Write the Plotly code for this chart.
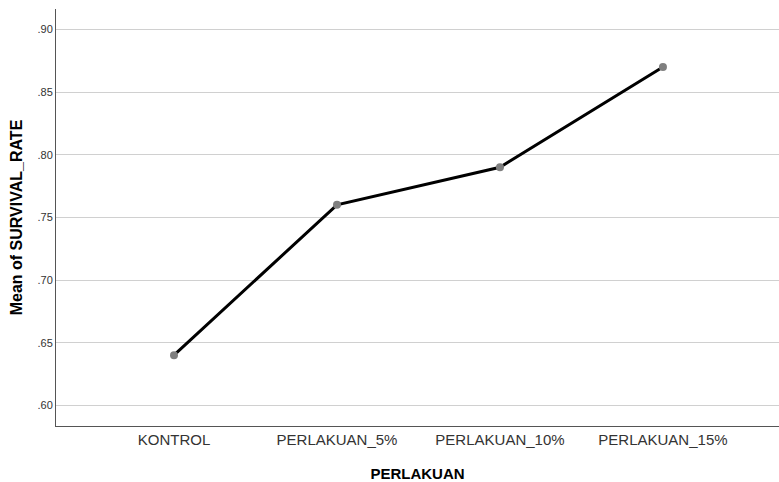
import plotly.graph_objects as go

categories = ["KONTROL", "PERLAKUAN_5%", "PERLAKUAN_10%", "PERLAKUAN_15%"]
mean_survival = [0.64, 0.76, 0.79, 0.87]
y_tick_vals = [0.60, 0.65, 0.70, 0.75, 0.80, 0.85, 0.90]
y_tick_text = [".60", ".65", ".70", ".75", ".80", ".85", ".90"]

fig = go.Figure()
fig.add_trace(go.Scatter(
    x=list(range(len(categories))),
    y=mean_survival,
    mode="lines+markers",
    line=dict(color="#000000", width=3),
    marker=dict(color="#7f7f7f", size=8),
    hoverinfo="skip",
    showlegend=False,
))

fig.update_layout(
    width=779, height=482,
    margin=dict(l=56, r=0, t=9, b=56),
    paper_bgcolor="white", plot_bgcolor="white",
    font=dict(family="Liberation Sans, Arial, sans-serif", color="#333333"),
    xaxis=dict(
        tickvals=list(range(len(categories))),
        ticktext=categories,
        range=[-0.724, 3.712],
        showgrid=False, zeroline=False,
        showline=True, linecolor="#555555", linewidth=1,
        ticks="", tickfont=dict(size=15, color="#333333"),
        title=dict(text="<b>PERLAKUAN</b>", font=dict(size=15, color="#000000"), standoff=21),
    ),
    yaxis=dict(
        tickvals=y_tick_vals,
        ticktext=y_tick_text,
        range=[0.5835, 0.9163],
        showgrid=True, gridcolor="#d0d0d0", gridwidth=1,
        zeroline=False,
        showline=True, linecolor="#555555", linewidth=1,
        ticks="", tickfont=dict(size=11, color="#333333"),
        title=dict(text="<b>Mean of SURVIVAL_RATE</b>", font=dict(size=16, color="#000000"), standoff=10),
    ),
)

fig.write_html("out.html", config={"displayModeBar": False},
               post_script="document.body.style.margin='0';")
